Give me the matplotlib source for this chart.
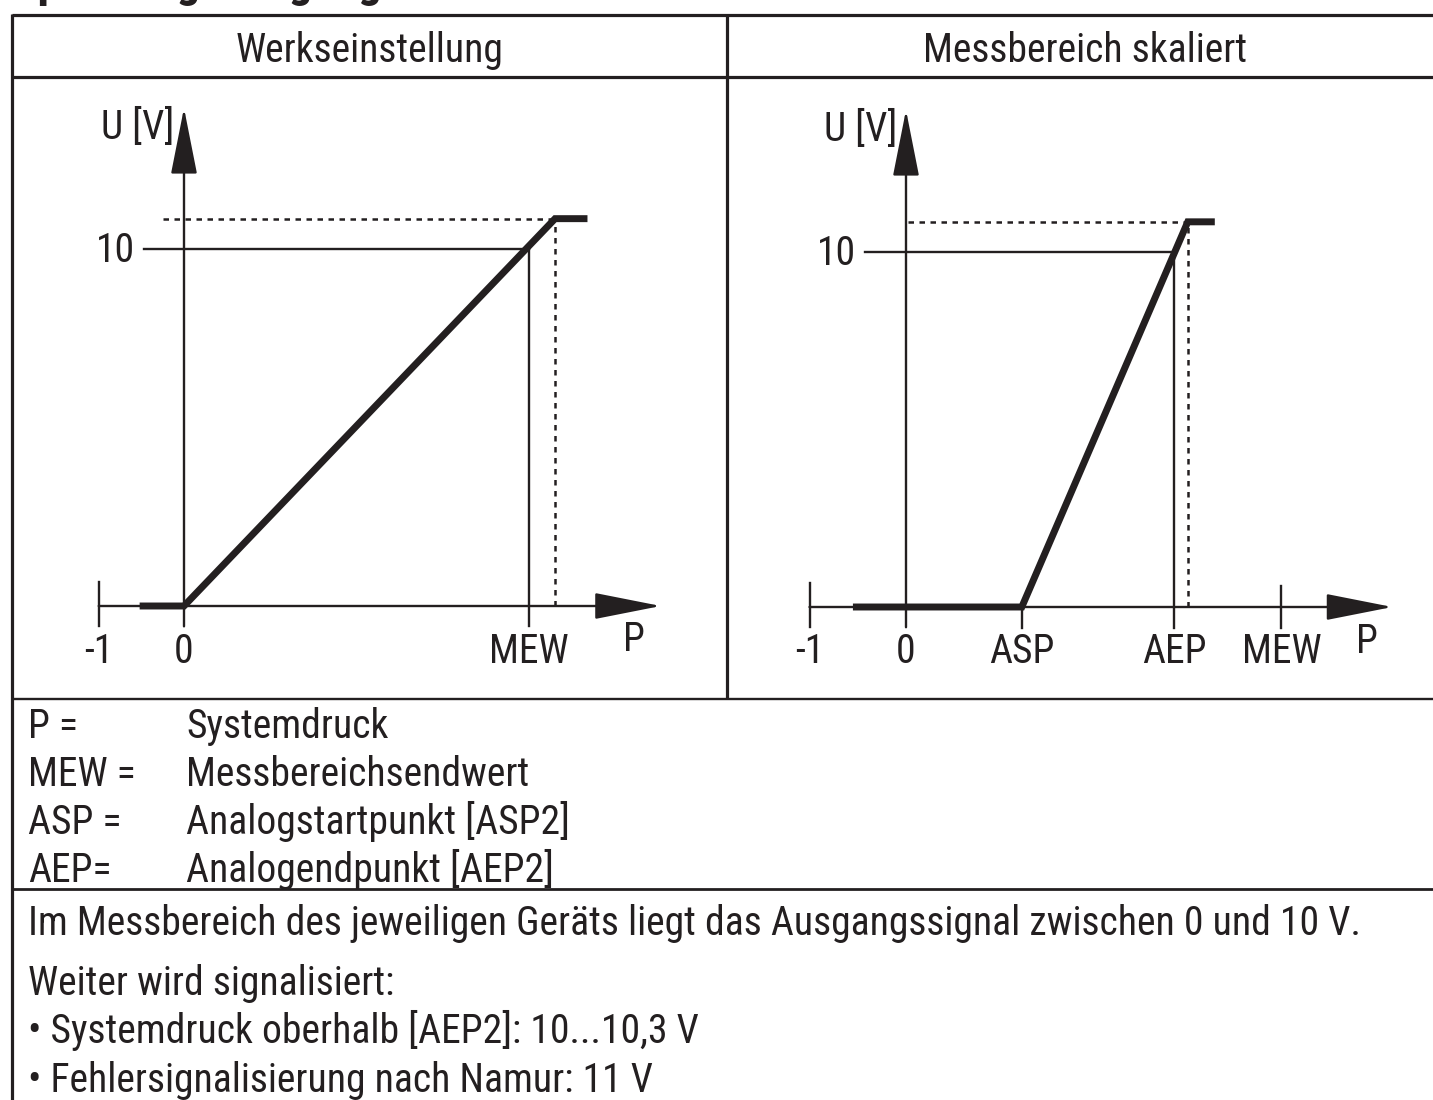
import numpy as np
import matplotlib.pyplot as plt
from matplotlib.patches import FancyArrowPatch

plt.rcParams['font.family'] = ['Roboto Condensed', 'Archivo Narrow', 'Liberation Sans', 'DejaVu Sans']

ink = '#231f20'
W, H = 1433, 1100
fs = 28.5

# Kennlinie "Werkseinstellung" (P in Skalenteilen, U in V)
p_werk = [-0.52, 0.0, 4.35, 4.73]
u_werk = [0.0, 0.0, 10.85, 10.85]
mew_werk = 4.04

# Kennlinie "Messbereich skaliert"
p_skal = [-0.55, 0.0, 1.2, 2.92, 3.2]
u_skal = [0.0, 0.0, 0.0, 10.85, 10.85]
asp, aep, mew_skal = 1.2, 2.78, 3.89

u_nenn = 10
u_max = 10.85

headers = ['Werkseinstellung', 'Messbereich skaliert']
legend_keys = ['P =', 'MEW =', 'ASP =', 'AEP=']
legend_vals = ['Systemdruck', 'Messbereichsendwert', 'Analogstartpunkt [ASP2]', 'Analogendpunkt [AEP2]']
notes = ['Im Messbereich des jeweiligen Geräts liegt das Ausgangssignal zwischen 0 und 10 V.',
         'Weiter wird signalisiert:',
         '• Systemdruck oberhalb [AEP2]: 10...10,3 V',
         '• Fehlersignalisierung nach Namur: 11 V']

fig = plt.figure(figsize=(W / 100, H / 100), dpi=100)

# frame axes in pixel units for the table
frame = fig.add_axes([0, 0, 1, 1])
frame.set_xlim(0, W)
frame.set_ylim(H, 0)
frame.axis('off')

frame.text(12, -3, 'Spannungsausgang', fontsize=34, fontweight='bold', color=ink,
           ha='left', va='baseline')
frame.plot([12, W], [15, 15], color=ink, lw=2.3, solid_capstyle='butt')
frame.plot([12, W], [77, 77], color=ink, lw=2.3, solid_capstyle='butt')
frame.plot([727, 727], [15, 699], color=ink, lw=2.3, solid_capstyle='butt')
frame.plot([12, W], [699, 699], color=ink, lw=1.7, solid_capstyle='butt')
frame.plot([12, W], [889, 889], color=ink, lw=2.0, solid_capstyle='butt')
frame.plot([12, 12], [14, H], color=ink, lw=2.3, solid_capstyle='butt')

frame.text(369.5, 62, headers[0], fontsize=fs, color=ink, ha='center', va='baseline')
frame.text(1085, 62, headers[1], fontsize=fs, color=ink, ha='center', va='baseline')

for i, (k, v) in enumerate(zip(legend_keys, legend_vals)):
    frame.text(28, 738 + 48 * i, k, fontsize=fs, color=ink, va='baseline')
    frame.text(186, 738 + 48 * i, v, fontsize=fs, color=ink, va='baseline')

for t, yb in zip(notes, [935, 995, 1043, 1092]):
    frame.text(28, yb, t, fontsize=fs, color=ink, va='baseline')


def panel(x0, x1, px_origin, py_origin, px_unit, py_unit):
    # axes whose data units map onto the drawing area of a panel
    ax = fig.add_axes([x0 / W, 1 - 699 / H, (x1 - x0) / W, (699 - 77) / H])
    ax.set_xlim((x0 - px_origin) / px_unit, (x1 - px_origin) / px_unit)
    ax.set_ylim((py_origin - 699) / py_unit, (py_origin - 77) / py_unit)
    ax.axis('off')
    return ax


def arrow(ax, start, end):
    a = FancyArrowPatch(start, end, arrowstyle='-|>,head_length=42,head_width=8.3',
                        mutation_scale=1, lw=1.7, color=ink, shrinkA=0, shrinkB=0)
    ax.add_patch(a)


def axes_lines(ax, x_tip, u_tip):
    arrow(ax, (-1, 0), (x_tip, 0))
    arrow(ax, (0, -0.57), (0, u_tip))
    ax.plot([-1, -1], [-0.57, 0.67], color=ink, lw=1.7)


# ---- linkes Diagramm
ax1 = panel(12, 727, 184, 606, 85.3, 35.7)
axes_lines(ax1, 5.59, 13.95)
ax1.plot([-0.47, mew_werk], [u_nenn, u_nenn], color=ink, lw=1.7)
ax1.plot([mew_werk, mew_werk], [-0.57, u_nenn], color=ink, lw=1.7)
ax1.plot([-0.25, p_werk[2]], [u_max, u_max], color=ink, lw=1.8, ls=(0, (2.2, 2.2)))
ax1.plot([p_werk[2], p_werk[2]], [0, u_max], color=ink, lw=1.8, ls=(0, (2.2, 2.2)))
ax1.plot(p_werk, u_werk, color=ink, lw=5, solid_joinstyle='miter', solid_capstyle='butt')
ax1.text(-0.12, 13.08, 'U [V]', fontsize=fs, color=ink, ha='right', va='baseline')
ax1.text(-0.57, 9.64, '10', fontsize=fs, color=ink, ha='right', va='baseline')
for xv, lab in zip([-1, 0, mew_werk], ['-1', '0', 'MEW']):
    ax1.text(xv, -1.6, lab, fontsize=fs, color=ink, ha='center', va='baseline')
ax1.text(5.27, -1.26, 'P', fontsize=fs, color=ink, ha='center', va='baseline')

# ---- rechtes Diagramm
ax2 = panel(727, W, 906, 607, 96.5, 35.5)
axes_lines(ax2, 5.04, 14.0)
ax2.plot([-0.43, aep], [u_nenn, u_nenn], color=ink, lw=1.7)
ax2.plot([aep, aep], [-0.59, u_nenn], color=ink, lw=1.7)
ax2.plot([asp, asp], [-0.59, 0], color=ink, lw=1.7)
ax2.plot([mew_skal, mew_skal], [-0.59, 0.59], color=ink, lw=1.7)
ax2.plot([0.02, p_skal[3]], [u_max, u_max], color=ink, lw=1.8, ls=(0, (2.2, 2.2)))
ax2.plot([p_skal[3], p_skal[3]], [0, u_max], color=ink, lw=1.8, ls=(0, (2.2, 2.2)))
ax2.plot(p_skal, u_skal, color=ink, lw=5, solid_joinstyle='miter', solid_capstyle='butt')
ax2.text(-0.09, 13.13, 'U [V]', fontsize=fs, color=ink, ha='right', va='baseline')
ax2.text(-0.52, 9.63, '10', fontsize=fs, color=ink, ha='right', va='baseline')
for xv, lab in zip([-1, 0, asp, aep, mew_skal], ['-1', '0', 'ASP', 'AEP', 'MEW']):
    ax2.text(xv, -1.58, lab, fontsize=fs, color=ink, ha='center', va='baseline')
ax2.text(4.78, -1.30, 'P', fontsize=fs, color=ink, ha='center', va='baseline')

fig.savefig('out.png', dpi=100)
